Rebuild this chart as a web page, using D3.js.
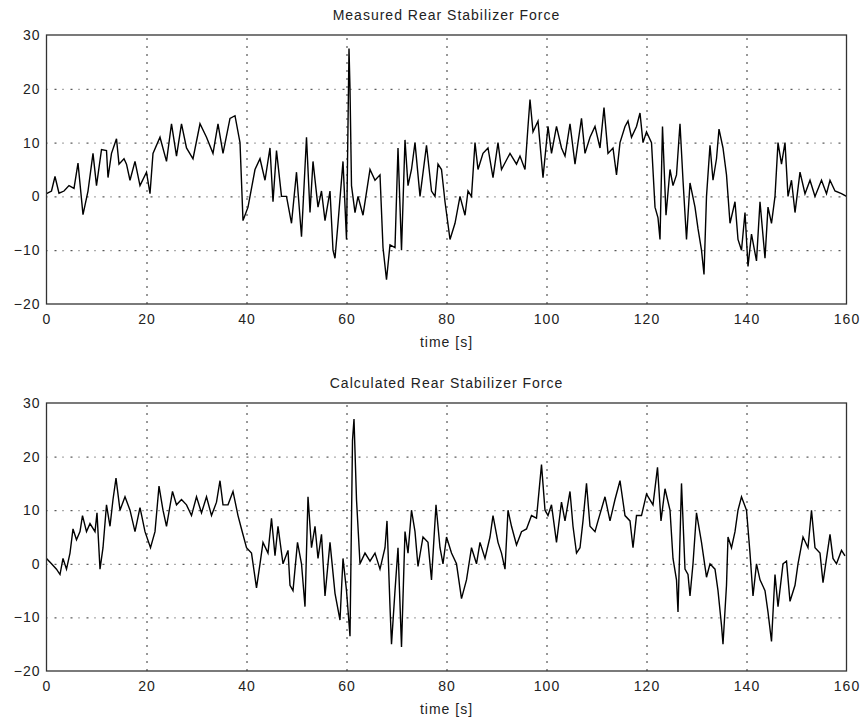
<!DOCTYPE html>
<html>
<head>
<meta charset="utf-8">
<script src="https://cdn.jsdelivr.net/npm/d3@7"></script>
<style>
  body { margin: 0; background: #fff; }
  svg { display: block; font-family: "Liberation Sans", Arial, Helvetica, sans-serif; }
  .tick text { font-size: 14px; fill: #222; letter-spacing: 1px; }
  .label { font-size: 14px; fill: #222; letter-spacing: 1px; }
  .domain { display: none; }
</style>
</head>
<body>
<div id="chart"></div>
<script>
  // values (time in s, force)
  var measuredTime = [0,1,1.7,2.5,3.5,4.5,5.5,6.3,7.3,8.3,9.3,10,11,12,12.3,13,14,14.5,15.5,16,16.7,17.7,18.7,20,20.7,21.3,22.7,24,25,26,27,28,29.3,30.7,32,33.3,34.3,35.3,36.7,37.7,38.7,39.3,40.3,41.7,42.7,43.7,44.7,45.3,46,47,48,49,50,51,52,52.7,53.3,54.3,55,55.7,56.7,57.3,57.7,58.3,59.3,60,60.5,60.7,61,61.7,62.3,63.3,64.7,65.7,66.7,67.3,68,68.7,69.7,70.3,71,71.7,72.3,73,73.7,74.7,76,77,77.7,78.3,79,79.7,80.7,81.7,82.7,83.7,84.3,85,85.7,86.3,87.3,88.3,89.3,90.3,91,92.7,94,94.7,95.7,96.3,96.7,97.3,98.3,99.3,100.3,101,102,103,103.7,104.7,105.7,106.3,107,107.7,108.7,109.7,110.7,111.5,112.3,113.3,114,114.7,115.7,116.3,117,118,118.7,119.3,120,121,121.7,122.3,122.7,123.2,123.9,124.7,125.3,126,126.7,127.3,128,128.7,129.7,130.3,131,131.5,132,132.7,133.3,134,134.5,135.3,136,136.7,137.7,138.3,139,139.7,140.3,141,142,142.7,143.7,144.3,145,145.7,146.3,147,147.7,148.3,149,149.7,150.7,151.7,152.7,153.7,155,156,156.7,157.7,159,160];
  var measuredForce = [0.5,1,3.7,0.6,1,2,1.5,6.2,-3.4,1,8,2,8.7,8.5,3.5,8,10.7,6,7,6,3,6.5,2,4.5,0.5,8,11,6.5,13.5,7.5,13.5,9,7,13.5,11,8,13.5,8,14.5,15,10,-4.5,-2,5,7,3,9,-1,8.5,0,0,-5,4.5,-7.5,11,-3,6.5,-2,1,-4.5,1,-10,-11.5,-5,6.5,-8,27.5,20,2,-3,0,-3.5,5,3,4,-9.5,-15.5,-9,-9.5,9,-10,10.5,2,5,10,0,9.5,1,0,6,5,-1,-8,-5,0,-3.5,1,0,10,5,8,9,3.5,10,5,8,6,7.5,5,13,18,12,14,3.5,13,8,13,9,7.5,13.5,6,10,14.5,8,11,13,9,16.5,8,9,4,10,13,14,11,13,15.5,10,12,10,-2,-4,-8,13,-3.5,5,2,4,13.5,3,-8,2.5,-2,-6,-10,-14.5,0,9.5,3,7,12.5,9,4,-5,-1,-8,-10,-3,-13,-7,-12,-1,-11.5,-2,-5,0,10,6,10,0,3,-3,4.5,0.5,3,0,3,0.5,3,1,0.5,0];

  var calcTime = [0,1,2,2.7,3.3,4,4.7,5.3,6,6.7,7.2,8,8.7,9.7,10.1,10.7,11.3,12,12.7,13.3,13.9,14.7,15.7,16.7,17.7,18.7,19.7,20.8,21.7,22.5,23.3,24,25.2,26,27,28,29,30,31,32,33,34,34.7,35.3,36.3,37.3,38.3,39,40,41,42,42.7,43.3,44.3,45,45.7,46.3,47.3,48.3,48.7,49.3,50.2,51,51.7,52.3,53,53.7,54.3,55,55.7,56.7,57.7,58.7,59.3,60,60.7,61.2,61.5,62,62.7,63.7,64.7,65.7,66.7,67.7,68.1,68.7,69,69.7,70.3,71,71.7,72.3,73,73.7,74.3,75.3,76.3,77,77.9,78.7,79.3,80,81,82,83,84,85,86,86.7,87.7,88.7,89.3,90.3,91,91.7,92.3,93,94,95,96,97,98,99,99.7,100.3,101,102,103,103.7,104.7,105.3,106,106.7,107.3,108,108.7,109.7,110.3,111.7,112.7,113.7,114.7,115.7,116.7,117.3,118,119,120,121.3,122.2,122.9,123.7,124.7,125.3,126,126.3,127,127.7,128.3,128.7,129.3,130,131,132,132.7,133.7,134.3,135,135.3,136,136.3,137,137.7,138.3,139,140,140.7,141.3,142,142.7,143.7,144.3,145,145.7,146.3,147.3,148,148.7,149.7,150.3,151.3,152.3,153,153.7,154.7,155.3,156,156.7,157.3,158,159,159.7];
  var calcForce = [1,0,-1,-2,1,-1,2,6.5,4.5,6,9,6,7.5,6,9.5,-1,3,11,7,12,16,10,12.5,10,6,10.5,6,3,6,14.5,10,7,13.5,11,12,11,9,12.5,9.5,12.5,9,11.5,15.5,11,11,13.5,9,6.5,3,2,-4.5,0,4,2,8.5,1.5,7,0,2.5,-4,-5,4,0,-8,12.5,3,7,1,5.5,-6,4,-5.5,-10.5,1,-5,-13.5,23,27,12,0,2,0.5,2,-1,3,8,-8,-15,-5,3,-15.5,6,2,10,6,-0.5,5,4,-3,11,3,0,5,2,0,-6.5,-3,3,0,4,1,5,9,4,2,-1,10,7,3.5,6,6.5,9,8.5,18.5,10,9,11,4,11.5,8,13.5,7,2,3,8,15,7,6,8,12.5,8,12,15.5,9,8,3,9,9,13,11,18,8,14,10,1,-3,-9,15,-1,-2,-6,0,9.5,4,-2.5,0,-1,-5,-11.5,-15,-4,5,3,6,10,12.5,10,2,-6,0,-3,-5,-9,-14.5,-2,-8,0,0.5,-7,-4,0,5,3,10,3,2,-3.5,1,5.5,1,0,2.5,1.5];

  var timeTicks = [0,20,40,60,80,100,120,140,160];
  var forceTicks = [-20,-10,0,10,20,30];

  var panels = [
    { title: "Measured Rear Stabilizer Force", time: measuredTime, force: measuredForce, top: 35, bottom: 304 },
    { title: "Calculated Rear Stabilizer Force", time: calcTime, force: calcForce, top: 403, bottom: 671 }
  ];

  var left = 46.5, right = 846.5;

  var svg = d3.select("#chart").append("svg")
    .attr("width", 865)
    .attr("height", 723);

  panels.forEach(function (p) {
    var x = d3.scaleLinear().domain([0, 160]).range([left, right]);
    var y = d3.scaleLinear().domain([-20, 30]).range([p.bottom, p.top]);
    var h = p.bottom - p.top;
    var w = right - left;

    var g = svg.append("g");

    // grid lines (MATLAB style dotted)
    g.append("g")
      .attr("transform", "translate(0," + p.bottom + ")")
      .call(d3.axisBottom(x).tickValues(timeTicks.slice(1, -1)).tickSize(-h).tickFormat(""))
      .selectAll("line")
      .attr("stroke", "#333")
      .attr("stroke-dasharray", "2,6");

    g.append("g")
      .attr("transform", "translate(" + left + ",0)")
      .call(d3.axisLeft(y).tickValues(forceTicks.slice(1, -1)).tickSize(-w).tickFormat(""))
      .selectAll("line")
      .attr("stroke", "#333")
      .attr("stroke-dasharray", "1,7,2,6");

    var line = d3.line()
      .x(function (d, i) { return x(p.time[i]); })
      .y(function (d) { return y(d); });

    g.append("path")
      .datum(p.force)
      .attr("fill", "none")
      .attr("stroke", "#000")
      .attr("stroke-width", 1.4)
      .attr("stroke-linejoin", "miter")
      .attr("d", line);

    g.append("rect")
      .attr("x", left)
      .attr("y", p.top)
      .attr("width", w)
      .attr("height", h)
      .attr("fill", "none")
      .attr("stroke", "#333")
      .attr("stroke-width", 1.3);

    // tick labels
    g.append("g")
      .attr("transform", "translate(0," + p.bottom + ")")
      .call(d3.axisBottom(x).tickValues(timeTicks).tickSize(0).tickPadding(10).tickFormat(d3.format("d")));

    g.append("g")
      .attr("transform", "translate(" + left + ",0)")
      .call(d3.axisLeft(y).tickValues(forceTicks).tickSize(0).tickPadding(6)
        .tickFormat(function (d) { return d < 0 ? "\u2212" + Math.abs(d) : d; }));

    g.selectAll(".tick text").attr("font-family", null).attr("font-size", null);

    g.append("text")
      .attr("class", "label")
      .attr("x", (left + right) / 2)
      .attr("y", p.top - 15)
      .attr("text-anchor", "middle")
      .text(p.title);

    g.append("text")
      .attr("class", "label")
      .attr("x", (left + right) / 2)
      .attr("y", p.bottom + 43)
      .attr("text-anchor", "middle")
      .text("time [s]");
  });
</script>
</body>
</html>
